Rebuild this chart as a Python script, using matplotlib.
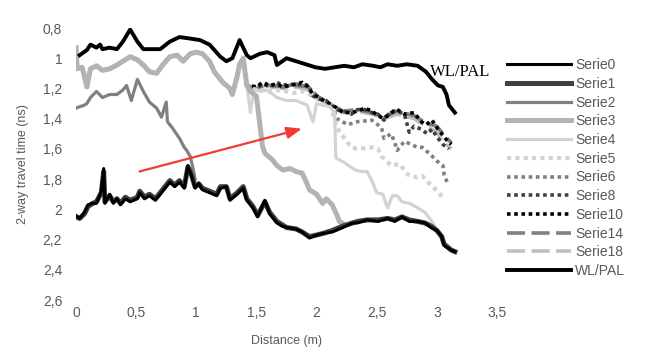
import matplotlib
matplotlib.use("Agg")
import matplotlib.pyplot as plt
from matplotlib.ticker import FuncFormatter

plt.rcParams['font.family'] = ['Liberation Sans', 'DejaVu Sans']

# shared trace of the upper group (Serie3..Serie18) before they split up
cluster_d = [0.00, 0.01, 0.05, 0.07, 0.09, 0.12, 0.17, 0.22, 0.28, 0.34, 0.39, 0.45, 0.51, 0.56,
             0.61, 0.67, 0.72, 0.78, 0.84, 0.89, 0.95, 1.00, 1.05, 1.11, 1.15, 1.17, 1.22, 1.28,
             1.30, 1.34, 1.36, 1.39, 1.42]
cluster_t = [0.93, 1.07, 1.06, 1.12, 1.19, 1.07, 1.05, 1.08, 1.07, 1.045, 1.02, 0.99, 1.01, 1.045,
             1.09, 1.10, 1.045, 0.99, 0.98, 1.02, 0.97, 0.96, 0.97, 1.02, 1.09, 1.11, 1.16, 1.20,
             1.24, 1.12, 1.04, 1.00, 1.18]

# bottom curves
s0_d = [0.00, 0.03, 0.07, 0.10, 0.14, 0.17, 0.21, 0.23, 0.24, 0.28, 0.31, 0.34, 0.37, 0.41, 0.45,
        0.51, 0.53, 0.57, 0.61, 0.66, 0.70, 0.74, 0.78, 0.82, 0.86, 0.90, 0.93, 0.96, 0.99, 1.02,
        1.05, 1.11, 1.17, 1.20, 1.25, 1.28, 1.34, 1.39, 1.42, 1.47, 1.51, 1.57, 1.61, 1.67, 1.71,
        1.75, 1.83, 1.88, 1.94, 2.00, 2.05, 2.13, 2.22, 2.30, 2.34, 2.42, 2.51, 2.59, 2.65, 2.71,
        2.77, 2.84, 2.90, 2.95, 3.00, 3.04, 3.06, 3.12, 3.15]
s0_t = [2.04, 2.06, 2.02, 1.97, 1.96, 1.96, 1.88, 1.73, 1.96, 1.90, 1.96, 1.93, 1.97, 1.93, 1.95,
        1.93, 1.89, 1.93, 1.91, 1.94, 1.90, 1.86, 1.82, 1.85, 1.82, 1.86, 1.71, 1.78, 1.86, 1.83,
        1.87, 1.89, 1.91, 1.86, 1.85, 1.94, 1.90, 1.86, 1.94, 1.99, 2.05, 1.94, 2.03, 2.09, 2.11,
        2.12, 2.13, 2.15, 2.19, 2.17, 2.16, 2.15, 2.12, 2.09, 2.09, 2.07, 2.08, 2.06, 2.08, 2.05,
        2.08, 2.08, 2.09, 2.12, 2.14, 2.18, 2.24, 2.27, 2.28]
s1_t = [2.05, 2.06, 2.03, 1.98, 1.96, 1.95, 1.89, 1.75, 1.95, 1.91, 1.95, 1.93, 1.96, 1.92, 1.94,
        1.92, 1.88, 1.92, 1.90, 1.93, 1.89, 1.85, 1.81, 1.84, 1.81, 1.85, 1.72, 1.77, 1.85, 1.83,
        1.86, 1.88, 1.90, 1.85, 1.85, 1.93, 1.89, 1.85, 1.93, 1.98, 2.04, 1.95, 2.02, 2.08, 2.10,
        2.12, 2.13, 2.15, 2.18, 2.17, 2.16, 2.14, 2.11, 2.09, 2.08, 2.07, 2.07, 2.06, 2.07, 2.05,
        2.07, 2.08, 2.09, 2.11, 2.14, 2.18, 2.23, 2.27, 2.28]

s2_d = [0.00, 0.07, 0.09, 0.12, 0.17, 0.22, 0.28, 0.34, 0.39, 0.42, 0.46, 0.51, 0.56, 0.61, 0.67,
        0.71, 0.75, 0.76, 0.80, 0.86, 0.90, 0.92, 0.95, 0.97, 0.99]
s2_t = [1.33, 1.31, 1.30, 1.26, 1.22, 1.26, 1.24, 1.24, 1.21, 1.18, 1.28, 1.14, 1.22, 1.29, 1.33,
        1.39, 1.29, 1.42, 1.46, 1.53, 1.59, 1.61, 1.65, 1.72, 1.80]

# tails after the split (distance, time)
s3_d = [1.45, 1.50, 1.53, 1.55, 1.57, 1.63, 1.67, 1.72, 1.78, 1.83, 1.88, 1.92, 1.94, 2.00, 2.05,
        2.08, 2.13, 2.17, 2.19, 2.23]
s3_t = [1.22, 1.25, 1.45, 1.58, 1.63, 1.67, 1.71, 1.74, 1.73, 1.75, 1.76, 1.83, 1.87, 1.90, 1.96,
        1.93, 1.97, 2.04, 2.08, 2.10]

s4_d = [1.45, 1.48, 1.53, 1.59, 1.67, 1.75, 1.83, 1.92, 1.97, 2.00, 2.05, 2.11, 2.15, 2.16, 2.23,
        2.32, 2.37, 2.42, 2.46, 2.50, 2.55, 2.59, 2.63, 2.67, 2.71, 2.77, 2.84, 2.90, 2.95, 2.98]
s4_t = [1.36, 1.20, 1.22, 1.21, 1.26, 1.28, 1.28, 1.31, 1.42, 1.30, 1.31, 1.32, 1.36, 1.66, 1.69,
        1.74, 1.75, 1.75, 1.81, 1.89, 1.90, 1.99, 1.91, 1.91, 1.95, 1.96, 1.99, 2.02, 2.07, 2.11]

s5_d = [1.50, 1.60, 1.70, 1.80, 1.90, 2.00, 2.11, 2.17, 2.23, 2.29, 2.34, 2.46, 2.51, 2.54, 2.62,
        2.69, 2.76, 2.84, 2.88, 2.95, 3.02, 3.04]
s5_t = [1.19, 1.22, 1.21, 1.23, 1.22, 1.27, 1.30, 1.46, 1.53, 1.59, 1.60, 1.59, 1.60, 1.65, 1.71,
        1.70, 1.77, 1.79, 1.78, 1.84, 1.89, 1.92]

s6_d = [1.50, 1.61, 1.72, 1.83, 1.93, 2.02, 2.13, 2.17, 2.26, 2.34, 2.46, 2.54, 2.56, 2.62, 2.65,
        2.67, 2.73, 2.84, 2.88, 2.95, 3.00, 3.05, 3.06, 3.09]
s6_t = [1.19, 1.18, 1.19, 1.17, 1.19, 1.26, 1.31, 1.40, 1.44, 1.42, 1.41, 1.46, 1.53, 1.50, 1.56,
        1.61, 1.55, 1.59, 1.59, 1.64, 1.68, 1.71, 1.77, 1.83]

s8_d = [1.50, 1.55, 1.61, 1.67, 1.72, 1.78, 1.83, 1.88, 1.93, 1.97, 2.02, 2.08, 2.13, 2.17, 2.22,
        2.29, 2.34, 2.40, 2.46, 2.51, 2.56, 2.62, 2.67, 2.73, 2.77, 2.81, 2.87, 2.92, 2.96, 3.00,
        3.05, 3.10]
s8_t = [1.20, 1.17, 1.19, 1.16, 1.18, 1.17, 1.18, 1.17, 1.18, 1.25, 1.27, 1.28, 1.32, 1.34, 1.35,
        1.37, 1.34, 1.34, 1.36, 1.37, 1.41, 1.35, 1.35, 1.37, 1.49, 1.45, 1.47, 1.50, 1.47, 1.52,
        1.57, 1.60]

s10_d = [1.50, 1.55, 1.61, 1.67, 1.72, 1.78, 1.83, 1.88, 1.93, 1.97, 2.02, 2.08, 2.13, 2.17, 2.22,
         2.29, 2.34, 2.40, 2.46, 2.51, 2.56, 2.62, 2.67, 2.73, 2.81, 2.87, 2.91, 2.96, 3.00, 3.05,
         3.08, 3.12]
s10_t = [1.19, 1.16, 1.18, 1.17, 1.19, 1.18, 1.17, 1.16, 1.19, 1.24, 1.26, 1.29, 1.31, 1.33, 1.36,
         1.36, 1.35, 1.33, 1.35, 1.38, 1.40, 1.36, 1.34, 1.37, 1.36, 1.42, 1.44, 1.41, 1.46, 1.51,
         1.54, 1.57]

s14_d = [1.50, 1.61, 1.72, 1.83, 1.93, 2.02, 2.13, 2.22, 2.34, 2.46, 2.56, 2.67, 2.81, 2.91, 3.00,
         3.05, 3.12]
s14_t = [1.20, 1.18, 1.19, 1.18, 1.19, 1.26, 1.31, 1.35, 1.34, 1.36, 1.39, 1.35, 1.38, 1.43, 1.45,
         1.50, 1.56]

s18_d = [1.50, 1.61, 1.72, 1.83, 1.93, 2.02, 2.13, 2.22, 2.34, 2.46, 2.56, 2.67, 2.81, 2.91, 3.00,
         3.05, 3.12]
s18_t = [1.21, 1.19, 1.20, 1.19, 1.21, 1.27, 1.32, 1.36, 1.35, 1.37, 1.40, 1.37, 1.40, 1.45, 1.49,
         1.55, 1.60]

wl_d = [0.03, 0.09, 0.12, 0.17, 0.20, 0.22, 0.28, 0.34, 0.39, 0.45, 0.51, 0.56, 0.70, 0.78, 0.86,
        0.95, 1.03, 1.11, 1.20, 1.25, 1.30, 1.36, 1.42, 1.45, 1.53, 1.59, 1.65, 1.67, 1.75, 1.83,
        1.91, 1.99, 2.07, 2.15, 2.23, 2.31, 2.38, 2.47, 2.53, 2.59, 2.67, 2.75, 2.84, 2.91, 2.96,
        3.01, 3.05, 3.08, 3.10, 3.15]
wl_t = [0.98, 0.946, 0.91, 0.93, 0.91, 0.94, 0.93, 0.94, 0.89, 0.81, 0.89, 0.94, 0.94, 0.89, 0.86,
        0.87, 0.88, 0.91, 0.99, 1.02, 1.00, 0.88, 0.98, 1.00, 0.97, 0.96, 0.98, 1.045, 1.00, 1.02,
        1.04, 1.06, 1.07, 1.06, 1.05, 1.06, 1.04, 1.05, 1.06, 1.04, 1.05, 1.04, 1.05, 1.09, 1.14,
        1.18, 1.19, 1.24, 1.31, 1.36]

x_ticks = [0, 0.5, 1, 1.5, 2, 2.5, 3, 3.5]
y_ticks = [0.8, 1.0, 1.2, 1.4, 1.6, 1.8, 2.0, 2.2, 2.4, 2.6]


def comma(v, pos):
    return ('%g' % v).replace('.', ',')


fig = plt.figure(figsize=(6.47, 3.54), dpi=100)
ax = fig.add_axes([0.1175, 0.1525, 0.6507, 0.7684])

sq = (0, (1, 1))
ax.plot(s0_d, s1_t, color='#404040', lw=3.6, label='Serie1', zorder=3)
ax.plot(s0_d, s0_t, color='black', lw=2.2, label='Serie0', zorder=3.1)
ax.plot(s2_d, s2_t, color='#808080', lw=2.3, label='Serie2', zorder=2.6)
ax.plot(cluster_d + s3_d, cluster_t + s3_t, color='#b3b3b3', lw=3.6, label='Serie3', zorder=2.5)
ax.plot(cluster_d + s4_d, cluster_t + s4_t, color='#d3d3d3', lw=2.3, label='Serie4', zorder=2.2)
ax.plot(cluster_d + s5_d, cluster_t + s5_t, color='#d3d3d3', lw=3, ls=sq, label='Serie5', zorder=2)
ax.plot(cluster_d + s6_d, cluster_t + s6_t, color='#808080', lw=2.6, ls=sq, label='Serie6', zorder=2)
ax.plot(cluster_d + s8_d, cluster_t + s8_t, color='#404040', lw=2.6, ls=sq, label='Serie8', zorder=2)
ax.plot(cluster_d + s10_d, cluster_t + s10_t, color='black', lw=2.6, ls=sq, label='Serie10', zorder=2)
ax.plot(cluster_d + s14_d, cluster_t + s14_t, color='#808080', lw=2.6, ls=(0, (5, 1.8)), label='Serie14', zorder=1.9)
ax.plot(cluster_d + s18_d, cluster_t + s18_t, color='#bfbfbf', lw=2.6, ls=(0, (5, 1.8)), label='Serie18', zorder=1.8)
ax.plot(wl_d, wl_t, color='black', lw=2.8, label='WL/PAL', zorder=3.2)

ax.text(2.94, 1.09, 'WL/PAL', family='Liberation Serif', fontsize=12, color='black',
        va='center', ha='left')
ax.annotate('', xy=(1.90, 1.462), xytext=(0.506, 1.754),
            arrowprops=dict(arrowstyle='-|>,head_length=0.9,head_width=0.35', color='#f23b35', lw=1.6))

ax.set_xlim(0, 3.5)
ax.set_ylim(2.6, 0.8)
ax.set_xticks(x_ticks)
ax.set_yticks(y_ticks)
ax.xaxis.set_major_formatter(FuncFormatter(comma))
ax.yaxis.set_major_formatter(FuncFormatter(comma))
ax.tick_params(axis='both', length=0, labelsize=10, labelcolor='#595959')
ax.tick_params(axis='y', pad=10)
ax.tick_params(axis='x', pad=4)
for spine in ax.spines.values():
    spine.set_visible(False)
ax.set_xlabel('Distance (m)', fontsize=9, color='#595959', labelpad=11)
ax.set_ylabel('2-way travel time (ns)', fontsize=9, color='#595959', labelpad=10)

order = ['Serie0', 'Serie1', 'Serie2', 'Serie3', 'Serie4', 'Serie5', 'Serie6', 'Serie8',
         'Serie10', 'Serie14', 'Serie18', 'WL/PAL']
handles, labels = ax.get_legend_handles_labels()
lookup = dict(zip(labels, handles))
leg = fig.legend([lookup[k] for k in order], order, loc='upper left',
                 bbox_to_anchor=(0.784, 0.836), frameon=False, fontsize=10,
                 handlelength=4.6, handletextpad=0.3, labelspacing=0.34,
                 borderpad=0, borderaxespad=0)
for t in leg.get_texts():
    t.set_color('#595959')

fig.savefig('out.png', dpi=100)
